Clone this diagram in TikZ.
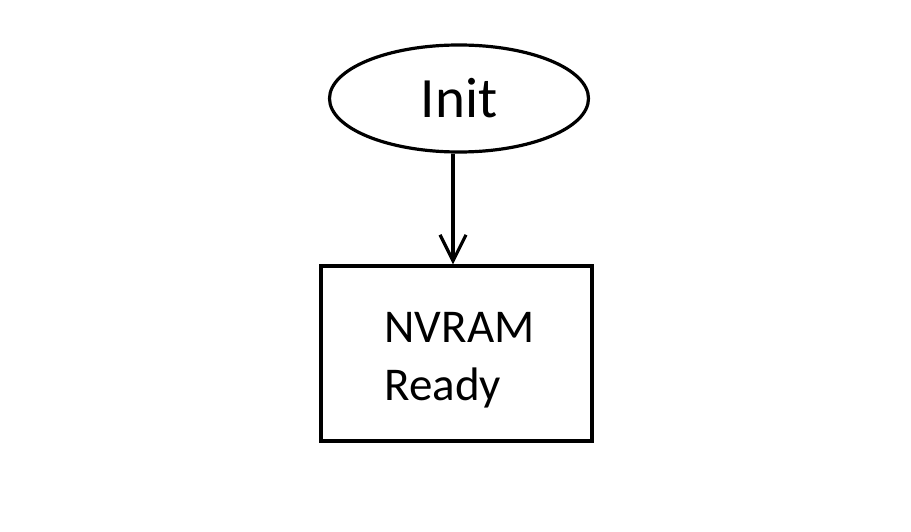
\documentclass[tikz,border=0pt]{standalone}
\usepackage{fontspec}
\setmainfont{Carlito}
\usetikzlibrary{shapes.geometric,arrows.meta}
\begin{document}
\begin{tikzpicture}[x=1pt,y=1pt,
  shapeline/.style={draw=black,line width=3.2pt},
  startnode/.style={shapeline,ellipse,minimum width=259pt,minimum height=107pt,inner sep=0pt,font=\fontsize{57}{68}\selectfont},
  boxnode/.style={shapeline,rectangle,minimum width=271pt,minimum height=175pt,inner sep=0pt,font=\fontsize{47}{58}\selectfont},
  flow/.style={line width=3.2pt,-{Straight Barb[length=26pt,width=26pt,line width=3.2pt]}}]
\useasboundingbox[fill=white] (0,0) rectangle (911,-532);
\node[startnode] (init) at (459,-98.5) {Init};
\node[boxnode] (nvram) at (456.5,-353.5) {\hspace*{6pt}\raisebox{0pt}[\dimexpr\height+12pt\relax][\depth]{\begin{tabular}{@{}l@{}}NVRAM\\Ready\end{tabular}}};
\draw[flow] (init.south -| 453,0) -- (nvram.north -| 453,0);
\end{tikzpicture}
\end{document}
